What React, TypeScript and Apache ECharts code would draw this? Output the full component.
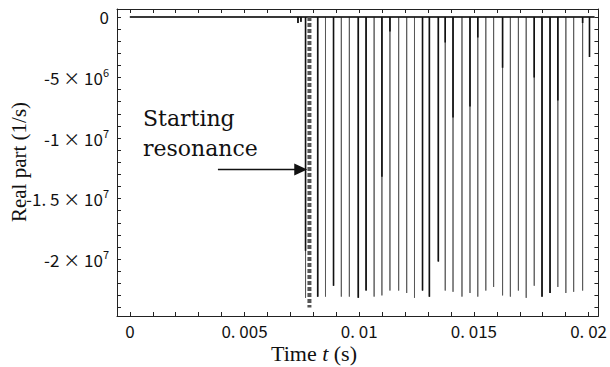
import React, { useEffect, useRef } from 'react';
import * as echarts from 'echarts';

// ---- axis ranges and ticks ----
const xMin = -0.00056;
const xMax = 0.02043;
const yMin = -2.47e7;
const yMax = 6.6e5;

const xTickValues = [
  0, 0.001, 0.002, 0.003, 0.004, 0.005, 0.006, 0.007, 0.008, 0.009, 0.01,
  0.011, 0.012, 0.013, 0.014, 0.015, 0.016, 0.017, 0.018, 0.019, 0.02,
];
const xLabelValues = [0, 0.005, 0.01, 0.015, 0.02];
const xLabelTexts = ['0', '0. 005', '0. 01', '0. 015', '0. 02'];

const yTickValues = [
  0, -1e6, -2e6, -3e6, -4e6, -5e6, -6e6, -7e6, -8e6, -9e6, -1e7, -1.1e7, -1.2e7,
  -1.3e7, -1.4e7, -1.5e7, -1.6e7, -1.7e7, -1.8e7, -1.9e7, -2e7, -2.1e7, -2.2e7,
  -2.3e7, -2.4e7,
];
const yLabelValues = [0, -5e6, -1e7, -1.5e7, -2e7];
const yLabelMantissas = ['0', '-5 × 10', '-1 × 10', '-1. 5 × 10', '-2 × 10'];
const yLabelExponents = ['', '6', '7', '7', '7'];

// ---- trace: sharp negative spikes of the real part ----
const traceStart = 0;
const traceEnd = 0.02026;
const spikeTimes = [
  0.00733, 0.00746, 0.00766, 0.00819, 0.00853, 0.00888, 0.00922, 0.00957,
  0.00996, 0.0103, 0.01065, 0.01099, 0.01134, 0.01172, 0.01207, 0.01241,
  0.01276, 0.01306, 0.01345, 0.01375, 0.01409, 0.01448, 0.01483, 0.01517,
  0.01552, 0.01586, 0.01625, 0.01659, 0.01694, 0.01728, 0.01763, 0.01797,
  0.01832, 0.01866, 0.01901, 0.01935, 0.01974, 0.02004,
];
const spikeDepths = [
  -5e5, -4e5, -2.32e7, -2.31e7, -2.31e7, -2.22e7, -2.31e7, -2.31e7,
  -2.32e7, -2.26e7, -2.31e7, -2.3e7, -2.26e7, -2.26e7, -2.28e7, -2.32e7,
  -2.26e7, -2.31e7, -2.02e7, -2.26e7, -2.27e7, -2.31e7, -2.28e7, -2.31e7,
  -2.26e7, -2.23e7, -2.3e7, -2.31e7, -2.26e7, -2.32e7, -2.22e7, -2.31e7,
  -2.28e7, -2.23e7, -2.28e7, -2.27e7, -2.26e7, -3.3e6,
];
// darker overlapping trace (0 = none)
const overlayDepths = [
  -5e5, -4e5, -1.93e7, -2.31e7, 0, -2.22e7, 0, 0,
  -2.32e7, -2.26e7, 0, -1.32e7, -1.2e6, 0, 0, 0,
  -2.26e7, -2.31e7, -2.02e7, -2.1e6, -8.3e6, 0, -7.4e6, -1.7e6,
  0, 0, -4.2e6, 0, 0, 0, -5.0e6, -2.31e7,
  -2.28e7, -6.9e6, 0, 0, -5e5, -3.3e6,
];

// start-of-resonance marker and annotation arrow
const startMarkerTime = 0.00783;
const startMarkerDepth = -2.4e7;
const arrowFrom = [0.00384, -1.26e7];
const arrowTo = [0.00745, -1.26e7];

const tickFont = '"Noto Sans CJK JP", "Noto Sans", sans-serif';
const serifFont = '"Liberation Serif", "DejaVu Serif", serif';

export default function App() {
  const ref = useRef<HTMLDivElement>(null);

  useEffect(() => {
    if (!ref.current) return;
    const chart = echarts.init(ref.current, null, { renderer: 'svg' });

    const mainData: any[] = [[traceStart, 0]];
    spikeTimes.forEach((t, i) => {
      mainData.push([t, 0], [t, spikeDepths[i]], [t, 0]);
    });
    mainData.push([traceEnd, 0]);

    const overlayData: any[] = [[traceStart, 0]];
    spikeTimes.forEach((t, i) => {
      if (overlayDepths[i] !== 0) overlayData.push([t, 0], [t, overlayDepths[i]], [t, 0]);
    });
    overlayData.push([traceEnd, 0]);

    const axisLine = { show: true, onZero: false, lineStyle: { color: '#222', width: 1 } };

    const xAxisBase = {
      type: 'value',
      min: xMin,
      max: xMax,
      splitLine: { show: false },
      axisLine,
      axisTick: { show: true, inside: true, length: 4, customValues: xTickValues, lineStyle: { color: '#222' } },
    };
    const yAxisBase = {
      type: 'value',
      min: yMin,
      max: yMax,
      splitLine: { show: false },
      axisLine,
      axisTick: { show: true, inside: true, length: 4, customValues: yTickValues, lineStyle: { color: '#222' } },
    };

    chart.setOption({
      animation: false,
      backgroundColor: '#fff',
      grid: { left: 117, right: 6, top: 9, bottom: 51, containLabel: false },
      xAxis: [
        {
          ...xAxisBase,
          position: 'bottom',
          axisLabel: {
            customValues: xLabelValues,
            formatter: (v: number) => {
              const i = xLabelValues.findIndex((x) => Math.abs(x - v) < 1e-9);
              return i >= 0 ? xLabelTexts[i] : '';
            },
            fontFamily: tickFont,
            fontSize: 17,
            lineHeight: 18,
            color: '#111',
            margin: 5,
          },
        },
        { ...xAxisBase, position: 'top', axisLabel: { show: false } },
      ],
      yAxis: [
        {
          ...yAxisBase,
          position: 'left',
          axisLabel: {
            customValues: yLabelValues,
            formatter: (v: number) => {
              const i = yLabelValues.findIndex((y) => Math.abs(y - v) < 1);
              if (i < 0) return '';
              return yLabelExponents[i]
                ? `{m|${yLabelMantissas[i]}}{s|${yLabelExponents[i]}}`
                : `{m|${yLabelMantissas[i]}}`;
            },
            margin: 8,
            rich: {
              m: { fontFamily: tickFont, fontSize: 17, color: '#111', lineHeight: 22 },
              s: { fontFamily: tickFont, fontSize: 11, color: '#111', lineHeight: 12, verticalAlign: 'top' },
            },
          },
        },
        { ...yAxisBase, position: 'right', axisLabel: { show: false } },
      ],
      series: [
        {
          type: 'line',
          name: 'Real part',
          xAxisIndex: 0,
          yAxisIndex: 0,
          data: mainData,
          showSymbol: false,
          symbol: 'none',
          lineStyle: { color: '#555', width: 0.9 },
          z: 2,
        },
        {
          type: 'line',
          name: 'Real part (overlay)',
          xAxisIndex: 0,
          yAxisIndex: 0,
          data: overlayData,
          showSymbol: false,
          symbol: 'none',
          lineStyle: { color: '#111', width: 1.6 },
          z: 3,
        },
        {
          type: 'line',
          name: 'Starting resonance',
          xAxisIndex: 0,
          yAxisIndex: 0,
          data: [
            [startMarkerTime, 0],
            [startMarkerTime, startMarkerDepth],
          ],
          showSymbol: false,
          symbol: 'none',
          lineStyle: { color: '#555', width: 4, type: [4, 2] },
          z: 4,
          markLine: {
            silent: true,
            symbol: ['none', 'triangle'],
            symbolSize: [12, 13],
            label: { show: false },
            lineStyle: { color: '#111', width: 1.4, type: 'solid' },
            data: [[{ coord: arrowFrom }, { coord: arrowTo }]],
          },
        },
      ],
      graphic: [
        {
          type: 'text',
          x: 19,
          y: 162,
          rotation: Math.PI / 2,
          style: {
            text: 'Real part (1/s)',
            fontFamily: serifFont,
            fontSize: 21,
            fill: '#111',
            align: 'center',
            verticalAlign: 'middle',
          },
        },
        {
          type: 'text',
          x: 314,
          y: 353,
          style: {
            text: '{r|Time }{i|t}{r| (s)}',
            rich: {
              r: { fontFamily: serifFont, fontSize: 22, lineHeight: 22, fill: '#111' },
              i: { fontFamily: serifFont, fontSize: 22, lineHeight: 22, fontStyle: 'italic', fill: '#111' },
            },
            align: 'center',
            verticalAlign: 'middle',
          },
        },
        {
          type: 'text',
          x: 143,
          y: 103,
          style: {
            text: 'Starting\nresonance',
            fontFamily: '"DejaVu Serif", serif',
            fontSize: 22,
            lineHeight: 30,
            fill: '#111',
          },
        },
      ],
    });

    return () => chart.dispose();
  }, []);

  return (
    <div
      ref={ref}
      style={{ position: 'fixed', left: 0, top: 0, width: 610, height: 367 }}
    />
  );
}
